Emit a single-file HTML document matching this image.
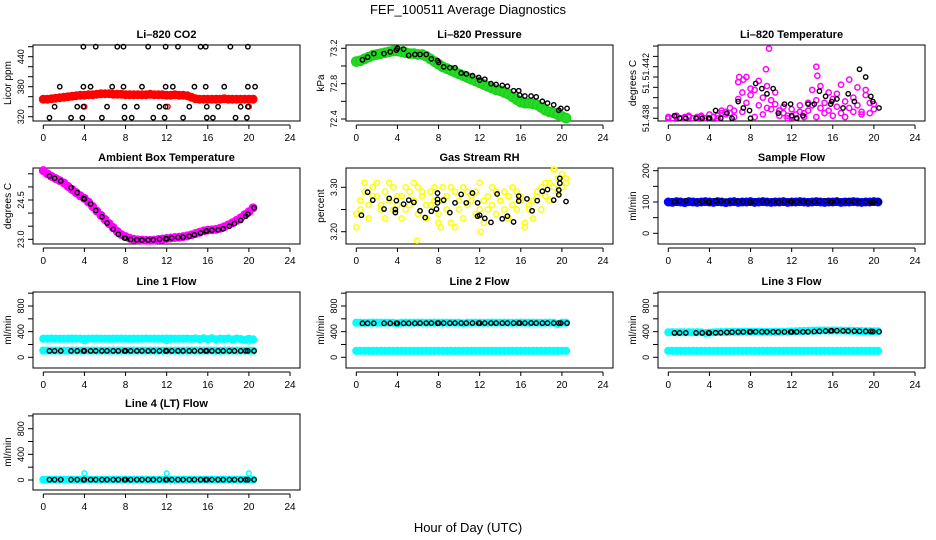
<!DOCTYPE html>
<html><head><meta charset="utf-8"><style>
html,body{margin:0;padding:0;background:#fff;}
svg{display:block;font-family:"Liberation Sans",Arial,sans-serif;}
</style></head><body>
<svg id="chart" width="936" height="540" viewBox="0 0 936 540" xmlns="http://www.w3.org/2000/svg">
<rect x="0" y="0" width="936" height="540" fill="#fff"/>
<text x="468" y="14" text-anchor="middle" font-size="13">FEF_100511  Average Diagnostics</text>
<text x="468" y="532" text-anchor="middle" font-size="13">Hour of Day (UTC)</text>
</svg>
<script>
// ---- shared data ----
const xTicks = [0,4,8,12,16,20,24];
const hoursB = [0.6,1.1,1.7,2.7,3.3,3.9,4.0,4.6,5.1,5.7,6.2,6.8,7.3,7.9,8.0,8.5,9.1,9.6,10.2,10.7,11.3,11.9,12.0,12.5,13.1,13.6,14.2,14.7,15.3,15.8,15.9,16.4,17.0,17.5,18.1,18.6,19.2,19.7,19.9,20.5];
const denseStep = 0.4;

// CO2
const co2BlackHours = [3.9,5.1,7.2,7.8,10.2,11.9,13.1,15.3,15.8,18.2,19.9, 1.6,3.9,4.6,6.7,7.8,9.6,11.9,12.6,14.7,15.8,17.6,19.9,20.6, 1.1,3.3,3.9,6.2,7.9,9.1,11.3,11.9,14.2,15.9,17,19.2,19.9, 0.6,2.7,3.8,5.7,7.9,8.6,10.7,11.8,13.6,15.9,16.5,18.7,19.8];
const co2BlackValues = [460,460,460,460,460,460,460,460,460,460,460, 380,380,380,380,380,380,380,380,380,380,380,380,380, 340,340,340,340,340,340,340,340,340,340,340,340,340, 318,318,318,318,318,318,318,318,318,318,318,318,318];
const co2Red = [355,355,356,357,358,359,360,361,362,363,363,364,364,365,366,366,366,365,365,365,364,364,364,364,364,364,365,364,364,364,363,363,364,363,363,362,359,356,355,355,355,355,355,355,356,355,355,355,355,355,355,355];
const co2RedOutHours = [4.0,12.1,20.0];
const co2RedOutValues = [340,340,340];

// Pressure
const presGreen = [73.05,73.06,73.08,73.10,73.12,73.13,73.14,73.15,73.16,73.17,73.17,73.16,73.15,73.14,73.14,73.13,73.13,73.11,73.08,73.05,73.02,72.99,72.97,72.95,72.93,72.91,72.89,72.87,72.85,72.83,72.81,72.79,72.77,72.75,72.73,72.72,72.70,72.68,72.65,72.62,72.59,72.58,72.58,72.57,72.56,72.53,72.50,72.48,72.47,72.45,72.43,72.41];
const presBlack = [73.07,73.10,73.14,73.14,73.16,73.18,73.20,73.19,73.12,73.13,73.13,73.13,73.08,73.06,73.04,72.99,72.98,72.98,72.92,72.91,72.89,72.87,72.84,72.85,72.80,72.79,72.78,72.77,72.72,72.72,72.67,72.66,72.66,72.65,72.60,72.58,72.56,72.50,72.52,72.52];

// Li-820 temperature
const tempMagA = [51.4380,51.4380,51.4381,51.4380,51.4380,51.4381,51.4380,51.4380,51.4381,51.4380,51.4380,51.4381,51.4382,51.4384,51.4385,51.4384,51.4386,51.4395,51.4400,51.4392,51.4398,51.4402,51.4390,51.4396,51.4388,51.4394,51.4391,51.4386,51.4384,51.4382,51.4381,51.4383,51.4385,51.4384,51.4386,51.4390,51.4394,51.4388,51.4392,51.4386,51.4395,51.4389,51.4384,51.4393,51.4388,51.4396,51.4390,51.4385,51.4398,51.4392,51.4387];
const tempMagB = [51.4381,51.4380,51.4382,51.4380,51.4381,51.4382,51.4380,51.4381,51.4382,51.4380,51.4383,51.4381,51.4380,51.4386,51.4383,51.4388,51.4381,51.4408,51.4385,51.4412,51.4403,51.4381,51.4409,51.4383,51.4405,51.4387,51.4400,51.4382,51.4389,51.4380,51.4387,51.4380,51.4390,51.4381,51.4392,51.4402,51.4381,51.4405,51.4384,51.4400,51.4382,51.4399,51.4406,51.4381,51.4410,51.4385,51.4404,51.4383,51.4402,51.4384,51.4391];
const tempOutHours = [9.8,9.5,14.4,6.9,7.3,14.5];
const tempOutValues = [51.4434,51.4418,51.4420,51.4412,51.4410,51.4413];
const tempBlack = [51.4382,51.4380,51.4380,51.4380,51.4380,51.4380,51.4380,51.4386,51.4380,51.4384,51.4380,51.4393,51.4388,51.4386,51.4380,51.4407,51.4403,51.4399,51.4403,51.4384,51.4391,51.4391,51.4382,51.4380,51.4382,51.4391,51.4391,51.4401,51.4397,51.4391,51.4393,51.4395,51.4388,51.4399,51.4393,51.4418,51.4412,51.4397,51.4393,51.4388];

// Ambient
const ambMag = [25.62,25.5,25.4,25.32,25.24,25.15,25.02,24.9,24.78,24.66,24.56,24.42,24.25,24.08,23.92,23.76,23.6,23.45,23.3,23.18,23.1,23.04,23.0,22.98,22.97,22.96,22.96,22.97,22.99,23.01,23.03,23.05,23.07,23.08,23.1,23.13,23.17,23.22,23.27,23.32,23.35,23.36,23.38,23.42,23.48,23.55,23.63,23.72,23.82,23.94,24.05,24.2];
const ambBlack = [25.42,25.33,25.22,24.97,24.78,24.56,24.54,24.35,24.1,23.86,23.62,23.38,23.19,23.05,23.04,22.99,22.98,22.97,22.97,22.98,23.0,23.02,23.02,23.05,23.07,23.08,23.12,23.17,23.24,23.31,23.32,23.35,23.36,23.4,23.5,23.6,23.72,23.88,23.96,24.2];

// RH
const rhYelA = [3.24,3.27,3.29,3.26,3.30,3.28,3.25,3.29,3.27,3.30,3.26,3.28,3.25,3.29,3.27,3.30,3.28,3.26,3.29,3.27,3.24,3.30,3.28,3.22,3.29,3.27,3.30,3.26,3.28,3.29,3.25,3.27,3.28,3.26,3.29,3.27,3.25,3.28,3.26,3.29,3.27,3.22,3.25,3.27,3.29,3.30,3.28,3.31,3.30,3.32,3.33,3.31];
const rhYelB = [3.21,3.25,3.31,3.23,3.28,3.31,3.26,3.23,3.31,3.25,3.28,3.23,3.30,3.26,3.31,3.24,3.29,3.23,3.26,3.30,3.22,3.27,3.25,3.30,3.21,3.25,3.23,3.29,3.27,3.24,3.31,3.22,3.25,3.30,3.24,3.27,3.29,3.23,3.30,3.25,3.28,3.21,3.26,3.23,3.28,3.25,3.31,3.27,3.34,3.29,3.30,3.32];
const rhOutHours = [5.9,12.1,8.2,19.3];
const rhOutValues = [3.18,3.20,3.21,3.34];
const rhBlackHours = [0.5,1.1,1.6,2.7,3.2,3.8,3.8,3.9,4.6,5.1,5.6,6.2,6.7,7.3,7.8,7.9,7.9,7.9,8.5,9.1,9.6,10.2,10.7,11.3,11.8,11.8,12.0,12.5,13.1,13.7,14.2,14.7,15.3,15.8,15.8,16.6,17.1,17.6,18.1,18.6,19.2,19.7,19.7,19.8,19.8,20.4];
const rhBlackValues = [3.237,3.289,3.271,3.251,3.275,3.25,3.243,3.27,3.262,3.271,3.266,3.247,3.232,3.246,3.251,3.273,3.287,3.265,3.271,3.243,3.265,3.284,3.265,3.287,3.265,3.235,3.237,3.23,3.221,3.285,3.229,3.235,3.222,3.28,3.269,3.274,3.247,3.27,3.291,3.295,3.271,3.294,3.283,3.32,3.309,3.268];

// Sample flow
const sampBlue = [100,99,101,100,98,101,100,99,100,101,100,99,101,100,98,100,101,99,100,100,101,99,100,101,100,99,100,100,101,99,100,100,101,100,99,100,101,100,99,100,100,101,99,100,100,101,100,99,100,100,101,100];
const sampBlack = [101,102,104,101,101,100,99,103,102,101,101,102,101,101,99,101,102,101,102,100,101,102,100,101,102,100,101,102,103,101,100,102,101,102,101,100,101,100,99,101];

// Line flows
const l1CyanHi = [290,290,291,290,289,290,290,291,290,289,288,290,290,291,290,290,289,290,290,291,290,290,289,290,290,291,290,290,289,290,291,290,290,289,290,292,286,294,283,295,282,296,280,290,285,293,278,291,284,272,288,279];
const l1CyanLo = [105,104,105,105,104,105,105,104,105,105,104,105,105,104,105,105,104,105,105,104,105,105,104,105,105,104,105,105,104,105,105,104,105,105,104,105,105,104,105,105,104,105,105,104,105,105,104,105,105,104,105,105];
const l1CyanOutHours = [4.0,12.0,20.0];
const l1CyanOutValues = [250,250,245];
const l1Black = [100,100,100,100,100,100,100,100,100,100,100,100,100,100,100,100,100,100,100,100,100,100,100,100,100,100,100,100,100,100,100,100,100,100,100,100,100,100,100,100];

const l2CyanHi = [540,540,538,540,541,540,539,540,540,538,530,540,541,540,539,540,540,538,540,541,540,539,540,540,538,540,530,540,539,540,540,538,540,541,540,539,540,540,538,540,541,540,539,540,540,538,540,541,540,520,540,540];
const l2CyanLo = [100,100,101,100,100,101,100,100,101,100,100,101,100,100,101,100,100,101,100,100,101,100,100,101,100,100,101,100,100,101,100,100,101,100,100,101,100,100,101,100,100,101,100,100,101,100,100,101,100,100,101,100];
const l2Black = [530,530,530,530,530,530,530,530,530,530,532,533,533,532,533,533,532,533,533,532,533,533,532,533,533,532,533,533,532,533,533,533,534,533,532,533,533,532,533,532];

const l3CyanHi = [390,392,390,391,390,392,390,391,390,380,385,390,392,393,394,395,396,397,398,398,398,398,398,397,397,396,396,396,398,400,402,404,408,410,412,414,416,417,418,417,418,417,418,415,414,412,410,408,407,406,405,404];
const l3CyanLo = [100,100,101,100,100,101,100,100,101,100,100,101,100,100,101,100,100,101,100,100,101,100,100,101,100,100,101,100,100,101,100,100,101,100,100,101,100,100,101,100,100,101,100,100,101,100,100,101,100,100,101,100];
const l3Black = [380,380,380,380,380,380,380,382,384,388,392,394,396,396,398,398,398,397,397,396,396,396,396,396,397,398,402,406,410,412,414,414,412,410,408,406,405,404,402,400];

const l4Cyan = [5,5,5,5,5,5,5,5,5,5,5,5,5,5,5,5,5,5,5,5,5,5,5,5,5,5,5,5,5,5,5,5,5,5,5,5,5,5,5,5,5,5,5,5,5,5,5,5,5,5,5,5];
const l4CyanOutHours = [4.0,12.0,20.0];
const l4CyanOutValues = [105,105,105];
const l4Black = [5,5,5,5,5,5,5,5,5,5,5,5,5,5,5,5,5,5,5,5,5,5,5,5,5,5,5,5,5,5,5,5,5,5,5,5,5,5,5,5];

// ---- drawing ----
const NS = "http://www.w3.org/2000/svg";
const svg = document.getElementById('chart');
const colLeft = [33, 346, 658];
const rowTop = [45, 168, 292, 414];
const boxW = 267, boxH = 76;

function mk(tag, attrs, parent) {
  const e = document.createElementNS(NS, tag);
  for (const k in attrs) e.setAttribute(k, attrs[k]);
  (parent || svg).appendChild(e);
  return e;
}
function denseHours(arr) { return arr.map((_, i) => i * denseStep); }

function panel(col, row, cfg) {
  const L = colLeft[col], T = rowTop[row];
  const g = mk('g', {});
  
  
  const xS = h => L + 10.3 + h * 10.28;
  const yS = v => cfg.y0px + (v - cfg.y0) * (cfg.y1px - cfg.y0px) / (cfg.y1 - cfg.y0);
  const title = mk('text', {x: L + boxW / 2, y: T - 7, 'text-anchor': 'middle', 'font-size': 11, 'font-weight': 'bold'}, g);
  title.textContent = cfg.title;
  
  
  const box = mk('rect', {x: L, y: T, width: boxW, height: boxH, fill: 'none', stroke: '#000', 'stroke-width': 1}, g);
  
  
  const xa = mk('g', {}, g);
  
  
  const ay = T + boxH + 4;
  mk('line', {x1: xS(0), x2: xS(24), y1: ay, y2: ay, stroke: '#000'}, xa);
  xTicks.forEach(t => {
    mk('line', {x1: xS(t), x2: xS(t), y1: ay, y2: ay + 4, stroke: '#000'}, xa);
    const tx = mk('text', {x: xS(t), y: ay + 16, 'text-anchor': 'middle', 'font-size': 10}, xa);
    tx.textContent = t;
    
    
  });
  const ya = mk('g', {}, g);
  
  
  cfg.ticks.forEach((t, i) => {
    const y = yS(t);
    mk('line', {x1: L - 5, x2: L, y1: y, y2: y, stroke: '#000'}, ya);
    const lab = cfg.tickLabels[i];
    if (lab) {
      const tx = mk('text', {x: L - 9, y: y, 'text-anchor': 'middle', 'font-size': 9, transform: `rotate(-90 ${L - 9} ${y})`}, ya);
      tx.textContent = lab;
      
      
    }
  });
  const yl = mk('text', {x: L - 22, y: T + boxH / 2, 'text-anchor': 'middle', 'font-size': 10, transform: `rotate(-90 ${L - 22} ${T + boxH / 2})`}, ya);
  yl.textContent = cfg.ylab;
  
  
  cfg.series.forEach(s => {
    const sg = mk('g', {}, g);
    
    
    const hs = s.hours || denseHours(s.values);
    s.values.forEach((v, i) => {
      const c = mk('circle', {cx: xS(hs[i]), cy: yS(v), r: s.r || 2.4, fill: s.fill || 'none', stroke: s.color, 'stroke-width': s.sw || 1.4}, sg);
      
      
    });
  });
}

const flowTicks = [0,200,400,600,800,1000];
const flowLabels = ['0','','400','','800',''];
const band = (name, values, color, extra) => Object.assign({name, values, color, r: 3, sw: 2.2}, extra || {});
const blk = (name, values, hours) => ({name, values, hours: hours || hoursB, color: '#000', r: 2.2, sw: 1.4});

panel(0, 0, {name: 'co2', title: 'Li\u2013820 CO2', ylab: 'Licor ppm', y0: 320, y0px: 116.7, y1: 440, y1px: 56.7,
  ticks: [320,340,360,380,400,420,440,460], tickLabels: ['320','','','380','','','440',''],
  series: [band('red-series', co2Red, '#ff0000', {fill: '#ff0000', r: 3.4}), band('red-outliers', co2RedOutValues, '#ff0000', {hours: co2RedOutHours, r: 2.4, sw: 1.4}), blk('black-series', co2BlackValues, co2BlackHours)]});
panel(1, 0, {name: 'pressure', title: 'Li\u2013820 Pressure', ylab: 'kPa', y0: 72.4, y0px: 119, y1: 73.2, y1px: 48.3,
  ticks: [72.4,72.6,72.8,73.0,73.2], tickLabels: ['72.4','','72.8','','73.2'],
  series: [band('green-series', presGreen, '#1ecf1e', {fill: '#22dd22', r: 4.6, sw: 1.5}), blk('black-series', presBlack)]});
panel(2, 0, {name: 'li820-temp', title: 'Li\u2013820 Temperature', ylab: 'degrees C', y0: 51.438, y0px: 118.3, y1: 51.442, y1px: 66.7,
  ticks: [51.438,51.4388,51.4396,51.4404,51.4412,51.442,51.4428,51.4436], tickLabels: ['51.438','','','51.','','51.442','',''],
  series: [band('magenta-a', tempMagA, '#ff00ff', {r: 2.6, sw: 1.5}), band('magenta-b', tempMagB, '#ff00ff', {r: 2.6, sw: 1.5}), band('magenta-outliers', tempOutValues, '#ff00ff', {hours: tempOutHours, r: 2.6, sw: 1.5}), blk('black-series', tempBlack)]});
panel(0, 1, {name: 'ambient-temp', title: 'Ambient Box Temperature', ylab: 'degrees C', y0: 23.0, y0px: 239.3, y1: 24.5, y1px: 200,
  ticks: [23.0,23.5,24.0,24.5,25.0,25.5], tickLabels: ['23.0','','','24.5','',''],
  series: [band('magenta-series', ambMag, '#ff00ff', {fill: '#ff00ff', r: 3.4}), blk('black-series', ambBlack)]});
panel(1, 1, {name: 'rh', title: 'Gas Stream RH', ylab: 'percent', y0: 3.20, y0px: 231.7, y1: 3.30, y1px: 187.3,
  ticks: [3.20,3.25,3.30], tickLabels: ['3.20','','3.30'],
  series: [band('yellow-a', rhYelA, '#ffff00', {r: 2.6, sw: 1.5}), band('yellow-b', rhYelB, '#ffff00', {r: 2.6, sw: 1.5}), band('yellow-outliers', rhOutValues, '#ffff00', {hours: rhOutHours, r: 2.6, sw: 1.5}), blk('black-series', rhBlackValues, rhBlackHours)]});
panel(2, 1, {name: 'sample-flow', title: 'Sample Flow', ylab: 'ml/min', y0: 0, y0px: 233.3, y1: 200, y1px: 170.7,
  ticks: [0,50,100,150,200], tickLabels: ['0','','100','','200'],
  series: [band('blue-series', sampBlue, '#0000ff', {fill: '#0000ff', r: 3.4}), blk('black-series', sampBlack)]});
panel(0, 2, {name: 'line1-flow', title: 'Line 1 Flow', ylab: 'ml/min', y0: 0, y0px: 357.3, y1: 800, y1px: 306,
  ticks: flowTicks, tickLabels: flowLabels,
  series: [band('cyan-high', l1CyanHi, '#00ffff', {fill: '#00ffff'}), band('cyan-low', l1CyanLo, '#00ffff', {fill: '#00ffff'}), band('cyan-outliers', l1CyanOutValues, '#00ffff', {hours: l1CyanOutHours, r: 2.4, sw: 1.4}), blk('black-series', l1Black)]});
panel(1, 2, {name: 'line2-flow', title: 'Line 2 Flow', ylab: 'ml/min', y0: 0, y0px: 357.3, y1: 800, y1px: 306,
  ticks: flowTicks, tickLabels: flowLabels,
  series: [band('cyan-high', l2CyanHi, '#00ffff', {fill: '#00ffff'}), band('cyan-low', l2CyanLo, '#00ffff', {fill: '#00ffff'}), blk('black-series', l2Black)]});
panel(2, 2, {name: 'line3-flow', title: 'Line 3 Flow', ylab: 'ml/min', y0: 0, y0px: 357.3, y1: 800, y1px: 306,
  ticks: flowTicks, tickLabels: flowLabels,
  series: [band('cyan-high', l3CyanHi, '#00ffff', {fill: '#00ffff'}), band('cyan-low', l3CyanLo, '#00ffff', {fill: '#00ffff'}), blk('black-series', l3Black)]});
panel(0, 3, {name: 'line4-flow', title: 'Line 4 (LT) Flow', ylab: 'ml/min', y0: 0, y0px: 480, y1: 800, y1px: 428.7,
  ticks: flowTicks, tickLabels: flowLabels,
  series: [band('cyan-series', l4Cyan, '#00ffff', {fill: '#00ffff'}), band('cyan-outliers', l4CyanOutValues, '#00ffff', {hours: l4CyanOutHours, r: 2.4, sw: 1.4}), blk('black-series', l4Black)]});
</script>
</body></html>
